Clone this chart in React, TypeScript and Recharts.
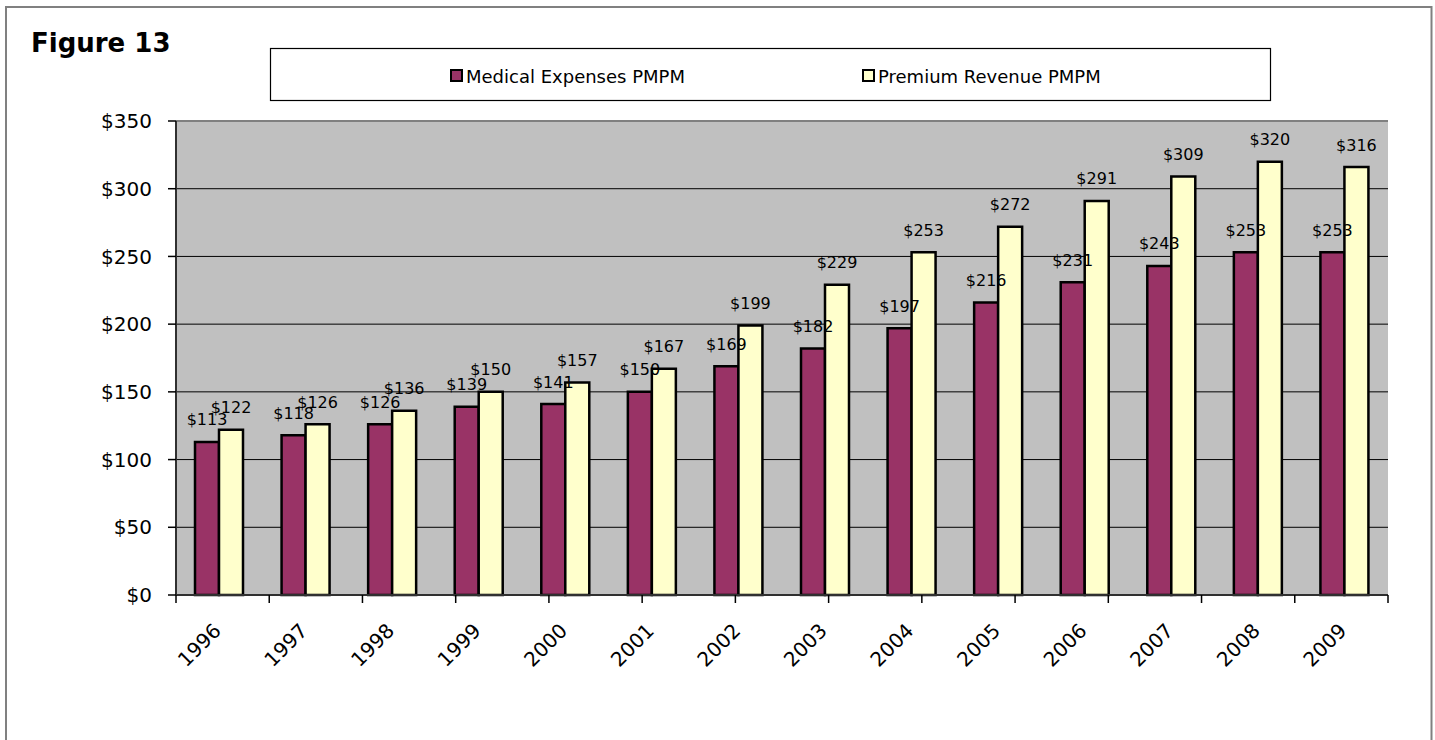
import React from 'react';
import {
    BarChart,
    Bar,
    XAxis,
    YAxis,
    CartesianGrid,
    LabelList,
    ReferenceLine,
} from 'recharts';

const years = ['1996', '1997', '1998', '1999', '2000', '2001', '2002', '2003', '2004', '2005', '2006', '2007', '2008', '2009'];
const medicalExpenses = [113, 118, 126, 139, 141, 150, 169, 182, 197, 216, 231, 243, 253, 253];
const premiumRevenue = [122, 126, 136, 150, 157, 167, 199, 229, 253, 272, 291, 309, 320, 316];
const yTicks = [0, 50, 100, 150, 200, 250, 300, 350];
// category boundaries for the x-axis tick marks
const edgeTicks = [0, ...years.map((_, i) => i + 1)];

const MEDICAL = '#993366';
const PREMIUM = '#FFFFCC';
const FONT = "'DejaVu Sans', Verdana, sans-serif";

const data = years.map((year, i) => ({
    year,
    medical: medicalExpenses[i],
    premium: premiumRevenue[i],
}));

const ValueLabel = (props: any) => {
    const { x, y, width, value } = props;
    return (
        <text
            x={x + width / 2}
            y={y - 16.5}
            textAnchor="middle"
            fontSize={16}
            fontFamily={FONT}
            fill="#000"
        >
            ${value}
        </text>
    );
};

// the year axis sits 10px under the plot (below the edge-tick axis)
const YearTick = (props: any) => {
    const { x, y, payload } = props;
    const tx = x + 3;
    const ty = y + 27;
    return (
        <text
            x={tx}
            y={ty}
            textAnchor="end"
            fontSize={20}
            fontFamily={FONT}
            fill="#000"
            transform={`rotate(-45, ${tx}, ${ty})`}
        >
            {payload.value}
        </text>
    );
};

const NoTick = () => <g />;

export default function App() {
    return (
        <div
            style={{
                position: 'fixed',
                left: 0,
                top: 0,
                width: 1435,
                height: 740,
                overflow: 'hidden',
                background: '#fff',
            }}
        >
            <svg width={1435} height={740} style={{ position: 'absolute', left: 0, top: 0 }}>
                <rect x={6} y={7} width={1425.5} height={800} fill="none" stroke="#808080" strokeWidth={2} />
                <text x={31} y={52} fontSize={26} fontWeight="bold" fontFamily={FONT} fill="#000">
                    Figure 13
                </text>
                <rect x={270.5} y={48.5} width={1000} height={52} fill="#fff" stroke="#000" strokeWidth={1.2} />
                <rect x={451} y={70} width={11} height={11} fill={MEDICAL} stroke="#000" strokeWidth={2} />
                <text x={466} y={82.5} fontSize={18} fontFamily={FONT} fill="#000">
                    Medical Expenses PMPM
                </text>
                <rect x={863} y={70} width={11} height={11} fill={PREMIUM} stroke="#000" strokeWidth={2} />
                <text x={878} y={82.5} fontSize={18} fontFamily={FONT} fill="#000">
                    Premium Revenue PMPM
                </text>
            </svg>

            <div style={{ position: 'absolute', left: 0, top: 0 }}>
                <BarChart
                    width={1435}
                    height={740}
                    data={data}
                    margin={{ top: 121, right: 47, bottom: 5, left: 0 }}
                    barGap={0}
                    barSize={24}
                >
                    <CartesianGrid vertical={false} fill="#C0C0C0" stroke="#000" strokeWidth={1} />
                    <XAxis
                        xAxisId={0}
                        type="number"
                        domain={[0, years.length]}
                        ticks={edgeTicks}
                        interval={0}
                        height={10}
                        tick={<NoTick />}
                        tickSize={8}
                        tickMargin={0}
                        tickLine={{ stroke: '#000', strokeWidth: 1.5 }}
                        axisLine={{ stroke: '#303030', strokeWidth: 2 }}
                        allowDataOverflow
                    />
                    <XAxis
                        xAxisId="cat"
                        dataKey="year"
                        height={130}
                        axisLine={false}
                        tickLine={false}
                        tickSize={0}
                        tickMargin={0}
                        interval={0}
                        tick={<YearTick />}
                    />
                    <YAxis
                        width={176}
                        domain={[0, 350]}
                        ticks={yTicks}
                        interval={0}
                        tickSize={8}
                        tickMargin={16}
                        tickFormatter={(v) => `$${v}`}
                        tick={{ fontSize: 20, fontFamily: FONT, fill: '#000' }}
                        tickLine={{ stroke: '#000', strokeWidth: 1.5 }}
                        axisLine={{ stroke: '#303030', strokeWidth: 2 }}
                    />
                    <ReferenceLine y={350} stroke="#808080" strokeWidth={2} />
                    <ReferenceLine x={years.length} stroke="#808080" strokeWidth={2.5} />
                    <Bar xAxisId="cat" dataKey="medical" fill={MEDICAL} stroke="#000" strokeWidth={2.5} isAnimationActive={false}>
                        <LabelList dataKey="medical" content={<ValueLabel />} />
                    </Bar>
                    <Bar xAxisId="cat" dataKey="premium" fill={PREMIUM} stroke="#000" strokeWidth={2.5} isAnimationActive={false}>
                        <LabelList dataKey="premium" content={<ValueLabel />} />
                    </Bar>
                </BarChart>
            </div>
        </div>
    );
}
